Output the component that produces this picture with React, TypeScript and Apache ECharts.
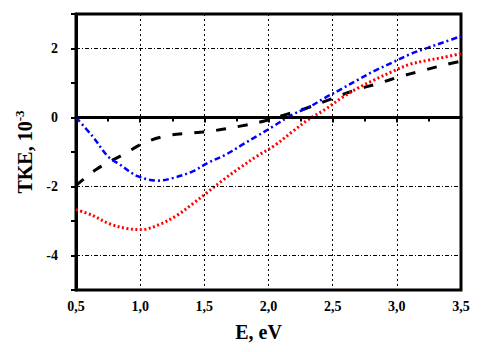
import React, { useEffect, useRef } from "react";
import * as echarts from "echarts";

const blackX = [0.5, 0.66, 0.87, 1.04, 1.22, 1.4, 1.58, 1.78, 1.96, 2.14, 2.31, 2.49, 2.67, 2.85, 3.02, 3.2, 3.39, 3.5];
const blackY = [-1.97, -1.5, -1.07, -0.72, -0.52, -0.45, -0.38, -0.25, -0.11, 0.09, 0.29, 0.54, 0.79, 0.98, 1.18, 1.36, 1.54, 1.63];

const blueX = [0.5, 0.63, 0.75, 0.84, 0.98, 1.14, 1.26, 1.41, 1.53, 1.67, 1.8, 1.91, 2.04, 2.19, 2.31, 2.44, 2.57, 2.7, 2.83, 2.97, 3.1, 3.24, 3.38, 3.5];
const blueY = [0, -0.55, -1.13, -1.36, -1.7, -1.83, -1.75, -1.56, -1.31, -1.07, -0.78, -0.54, -0.25, 0.09, 0.29, 0.57, 0.83, 1.1, 1.36, 1.6, 1.83, 2.02, 2.2, 2.36];

const redX = [0.5, 0.63, 0.76, 0.9, 1.01, 1.15, 1.29, 1.41, 1.52, 1.65, 1.78, 1.91, 2.04, 2.19, 2.31, 2.44, 2.57, 2.7, 2.83, 2.97, 3.1, 3.23, 3.36, 3.5];
const redY = [-2.67, -2.84, -3.08, -3.22, -3.25, -3.1, -2.83, -2.5, -2.18, -1.8, -1.45, -1.12, -0.83, -0.4, -0.06, 0.23, 0.57, 0.86, 1.1, 1.34, 1.54, 1.65, 1.74, 1.85];

const yLabelValues = [2, 0, -2, -4];
const hGridValues = [2, -2, -4];

const FONT = "'Liberation Serif', 'Times New Roman', serif";

function zip(xs: number[], ys: number[]) {
  return xs.map((x, i) => [x, ys[i]]);
}

export default function App() {
  const ref = useRef<HTMLDivElement>(null);
  useEffect(() => {
    if (!ref.current) return;
    const chart = echarts.init(ref.current, undefined, { renderer: "svg" });
    chart.setOption({
      animation: false,
      backgroundColor: "#fff",
      grid: {
        left: 76, right: 41, top: 14, bottom: 62,
        show: true, borderColor: "#000", borderWidth: 3, backgroundColor: "transparent",
      },
      xAxis: {
        type: "value", min: 0.5, max: 3.5, interval: 0.5,
        name: "E, eV", nameLocation: "middle", nameGap: 32,
        nameTextStyle: { fontFamily: FONT, fontWeight: "bold", fontSize: 20, color: "#000", padding: [0, 20, 0, 0] },
        axisLine: { show: true, lineStyle: { color: "#000", width: 3 } },
        axisTick: { show: true, length: 5, lineStyle: { color: "#000", width: 2 } },
        minorTick: { show: true, splitNumber: 2, length: 4, lineStyle: { color: "#000", width: 2 } },
        axisLabel: {
          margin: 9, fontFamily: FONT, fontWeight: "bold", fontSize: 14, color: "#000",
          formatter: (v: number) => v.toFixed(1).replace(".", ","),
        },
        splitLine: { show: true, lineStyle: { color: "#000", width: 1, type: [2, 3] } },
      },
      yAxis: {
        type: "value", min: -5, max: 3, interval: 1,
        name: "{a|TKE, 10}{b|-3}", nameLocation: "middle", nameGap: 40, nameRotate: 90,
        nameTextStyle: {
          rich: {
            a: { fontFamily: FONT, fontWeight: "bold", fontSize: 20, color: "#000" },
            b: { fontFamily: FONT, fontWeight: "bold", fontSize: 13, color: "#000", verticalAlign: "top", padding: [0, 0, 10, 0] },
          },
        },
        axisLine: { show: true, lineStyle: { color: "#000", width: 3 } },
        axisTick: { show: true, length: 5, lineStyle: { color: "#000", width: 2 } },
        axisLabel: {
          margin: 18, fontFamily: FONT, fontWeight: "bold", fontSize: 14, color: "#000",
          formatter: (v: number) => (yLabelValues.includes(v) ? String(v) : ""),
        },
        splitLine: { show: false },
      },
      series: [
        {
          type: "line", data: zip(blackX, blackY), smooth: 0.35, showSymbol: false,
          lineStyle: { color: "#000", width: 3, type: [10, 12] },
          markLine: {
            silent: true, symbol: "none", label: { show: false },
            data: [
              { yAxis: 0, lineStyle: { color: "#000", width: 2.5, type: "solid" } },
              ...hGridValues.map((v) => ({ yAxis: v, lineStyle: { color: "#000", width: 1, type: [4, 2, 1, 2] } })),
            ],
          },
          z: 3,
        },
        {
          type: "line", data: zip(blueX, blueY), smooth: 0.35, showSymbol: false,
          lineStyle: { color: "#0000ff", width: 2.5, type: [6, 3, 2, 3] },
          z: 3,
        },
        {
          type: "line", data: zip(redX, redY), smooth: 0.35, showSymbol: false,
          lineStyle: { color: "#ff0000", width: 3, type: [2, 2.5] },
          z: 3,
        },
      ],
    });
    return () => chart.dispose();
  }, []);
  return <div ref={ref} style={{ position: "absolute", left: 0, top: 0, width: 502, height: 352 }} />;
}
